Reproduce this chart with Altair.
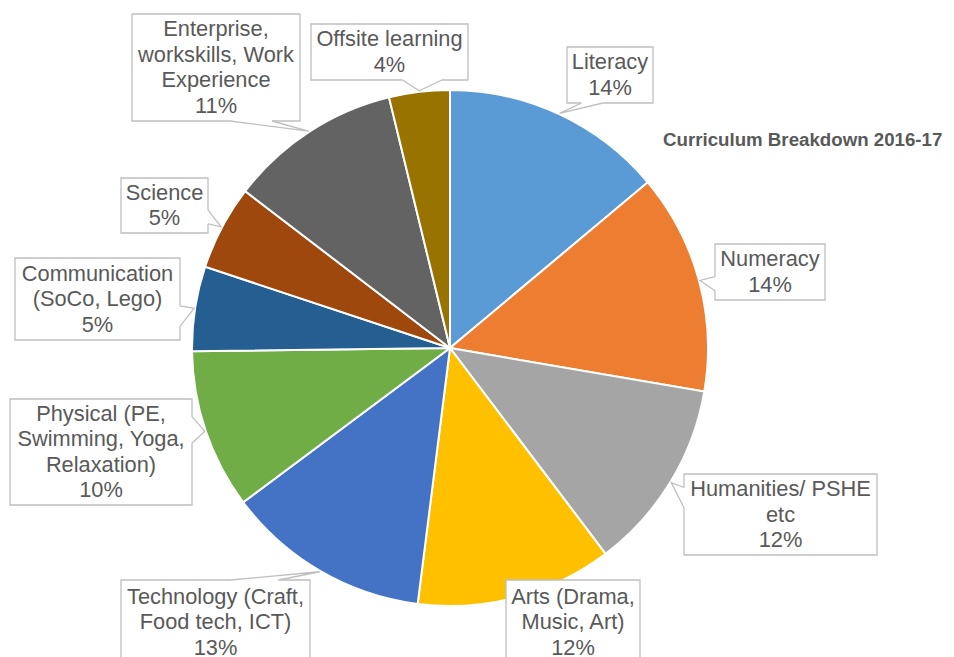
import math
import altair as alt
import pandas as pd

# ---------------- data ----------------
categories = [
    "Literacy",
    "Numeracy",
    "Humanities/ PSHE etc",
    "Arts (Drama, Music, Art)",
    "Technology (Craft, Food tech, ICT)",
    "Physical (PE, Swimming, Yoga, Relaxation)",
    "Communication (SoCo, Lego)",
    "Science",
    "Enterprise, workskills, Work Experience",
    "Offsite learning",
]
shares = [13.9, 13.8, 12.0, 12.3, 12.8, 10.0, 5.3, 5.3, 10.8, 3.8]
colors = ["#5B9BD5", "#ED7D31", "#A5A5A5", "#FFC000", "#4472C4",
          "#70AD47", "#255E91", "#9E480E", "#636363", "#997300"]
title_text = "Curriculum Breakdown 2016-17"

# ---------------- layout (pixels, chart coordinates) ----------------
W, H = 938, 649
CX, CY, R = 442, 340, 258
FONT = "Liberation Sans, Arial, sans-serif"
TEXT_COLOR = "#595959"
BOX_COLOR = "#BFBFBF"
FONT_SIZE = 21.8
LINE_H = 25.5

label_lines = [
    "Literacy",
    "Numeracy",
    "Humanities/ PSHE\netc",
    "Arts (Drama,\nMusic, Art)",
    "Technology (Craft,\nFood tech, ICT)",
    "Physical (PE,\nSwimming, Yoga,\nRelaxation)",
    "Communication\n(SoCo, Lego)",
    "Science",
    "Enterprise,\nworkskills, Work\nExperience",
    "Offsite learning",
]
box_cx = [602, 762, 772.5, 565, 207.5, 93, 89.5, 156.5, 208, 381.5]
box_cy = [67, 264, 506.5, 614, 614, 444, 291, 197.5, 59.5, 44]
box_w = [86, 110, 193, 134, 189, 182, 165, 87, 168, 157]
box_h = [56, 56, 81, 84, 84, 106, 82, 55, 107, 56]

# ---------------- derived tables ----------------
total = sum(shares)
pie_df = pd.DataFrame({"cat": categories, "value": shares, "idx": list(range(len(categories)))})

box_rows, wedge_rows, gap_rows = [], [], []
cum = 0.0
for i, (cat, v) in enumerate(zip(categories, shares)):
    mid = (cum + v / 2) / total * 2 * math.pi
    cum += v
    pct = round(v / total * 100)
    text = f"{label_lines[i]}\n{pct}%"
    n_lines = text.count("\n") + 1
    x0, x1 = box_cx[i] - box_w[i] / 2, box_cx[i] + box_w[i] / 2
    y0, y1 = box_cy[i] - box_h[i] / 2, box_cy[i] + box_h[i] / 2
    box_rows.append({"cat": cat, "x0": x0, "x1": x1, "y0": y0, "y1": y1,
                     "cx": box_cx[i], "ty": box_cy[i] - (n_lines - 1) / 2 * LINE_H,
                     "label": text})
    tx = CX + (R + 1) * math.sin(mid)
    ty = CY - (R + 1) * math.cos(mid)
    if x0 <= tx <= x1 and y0 <= ty <= y1:
        continue  # tip hidden under the callout box
    dx, dy = tx - box_cx[i], ty - box_cy[i]
    if abs(dy) > abs(dx) * box_h[i] / box_w[i]:
        ey = y1 if dy > 0 else y0
        f1, f2 = (7 / 12, 10 / 12) if dx > 0 else (2 / 12, 5 / 12)
        b1 = (x0 + box_w[i] * f1, ey)
        b2 = (x0 + box_w[i] * f2, ey)
    else:
        ex = x1 if dx > 0 else x0
        f1, f2 = (7 / 12, 10 / 12) if dy > 0 else (2 / 12, 5 / 12)
        b1 = (ex, y0 + box_h[i] * f1)
        b2 = (ex, y0 + box_h[i] * f2)
    for k, (px_, py_) in enumerate([b1, (tx, ty), b2]):
        wedge_rows.append({"cat": cat, "k": k, "x": px_, "y": py_})
    gap_rows.append({"cat": cat, "x": b1[0], "y": b1[1], "x2": b2[0], "y2": b2[1]})

box_df = pd.DataFrame(box_rows)
wedge_df = pd.DataFrame(wedge_rows)
gap_df = pd.DataFrame(gap_rows)
title_df = pd.DataFrame({"t": [title_text]})

# ---------------- chart ----------------
pie = alt.Chart(pie_df).mark_arc(outerRadius=R, stroke="white", strokeWidth=2).encode(
    theta=alt.Theta("value:Q", stack=True),
    color=alt.Color("cat:N", scale=alt.Scale(domain=categories, range=colors), legend=None),
    order=alt.Order("idx:Q"),
    x=alt.value(CX),
    y=alt.value(CY),
)

px = lambda f: alt.X(f, type="quantitative", scale=None, axis=None)
py = lambda f: alt.Y(f, type="quantitative", scale=None, axis=None)

boxes = alt.Chart(box_df).mark_rect(fill="white", stroke=BOX_COLOR, strokeWidth=1.3).encode(
    x=px("x0"), x2="x1", y=py("y0"), y2="y1"
)

gaps = alt.Chart(gap_df).mark_rule(stroke="white", strokeWidth=2.5).encode(
    x=px("x"), y=py("y"), x2="x2", y2="y2"
)

wedges = alt.Chart(wedge_df).mark_line(stroke=BOX_COLOR, strokeWidth=1.3).encode(
    x=px("x"), y=py("y"), detail="cat:N", order="k:Q"
)

labels = alt.Chart(box_df).mark_text(
    font=FONT, fontSize=FONT_SIZE, lineHeight=LINE_H, color=TEXT_COLOR,
    lineBreak="\n", align="center", baseline="middle"
).encode(x=px("cx"), y=py("ty"), text="label:N")

title = alt.Chart(title_df).mark_text(
    font=FONT, fontSize=18.7, fontWeight="bold", color=TEXT_COLOR,
    align="left", baseline="middle"
).encode(x=alt.value(655), y=alt.value(132), text="t:N")

chart = alt.layer(pie, boxes, gaps, wedges, labels, title).properties(
    width=W, height=H, padding=0,
    autosize=alt.AutoSizeParams(type="none"),
).configure_view(stroke=None)

chart.save("out.html", embed_options={"renderer": "svg", "actions": False})
